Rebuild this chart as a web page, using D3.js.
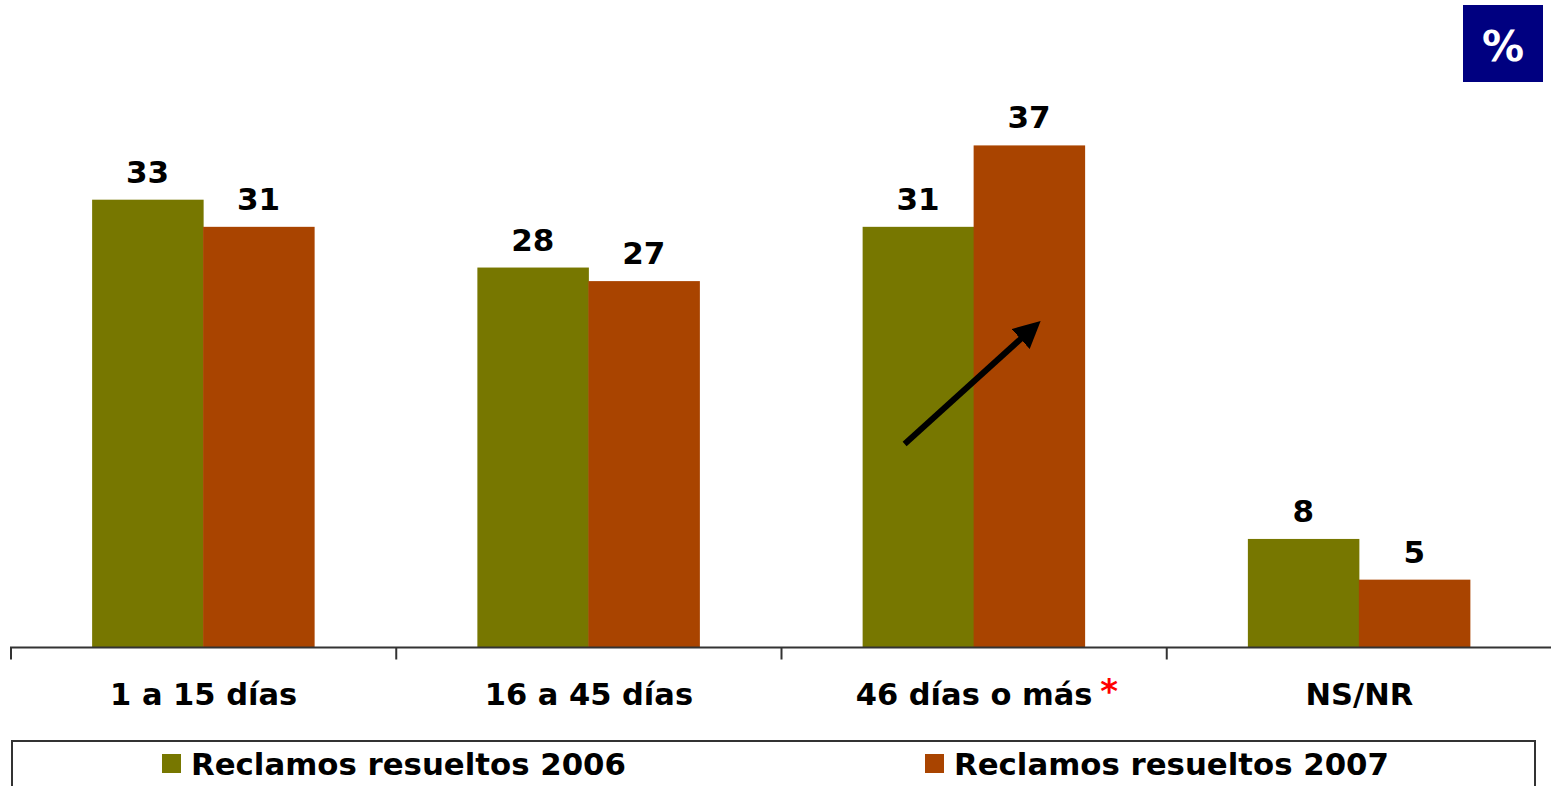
<!DOCTYPE html>
<html>
<head>
<meta charset="utf-8">
<script src="https://cdn.jsdelivr.net/npm/d3@7"></script>
<style>
  body { margin: 0; background: #fff; }
  text { font-family: "DejaVu Sans", Verdana, sans-serif; font-weight: bold; }
</style>
</head>
<body>
<div id="chart"></div>
<script>
// data
let categories = ["1 a 15 días", "16 a 45 días", "46 días o más", "NS/NR"];
let seriesNames = ["Reclamos resueltos 2006", "Reclamos resueltos 2007"];
let values2006 = [33, 28, 31, 8];
let values2007 = [31, 27, 37, 5];
let seriesColors = ["#777700", "#a94400"];

let svgWidth = 1551;
let svgHeight = 786;

let svg = d3.select("#chart")
    .append("svg")
    .attr("width", svgWidth)
    .attr("height", svgHeight);

// scales
let x0 = d3.scaleBand()
    .domain(categories)
    .range([11, 1552])
    .padding(0);

let barW = 111;
let x1 = d3.scaleBand()
    .domain(seriesNames)
    .range([x0.bandwidth() / 2 - barW - 0.5, x0.bandwidth() / 2 + barW - 0.5])
    .padding(0);

let y = d3.scaleLinear()
    .domain([0, 40])
    .range([647.5, 104.7]);

let rows = categories.map((c, i) => ({
    cat: c,
    vals: [
        { key: seriesNames[0], v: values2006[i], color: seriesColors[0] },
        { key: seriesNames[1], v: values2007[i], color: seriesColors[1] }
    ]
}));

let groups = svg.selectAll("g.grp")
    .data(rows)
    .enter()
    .append("g")
    .attr("class", "grp")
    .attr("transform", d => `translate(${x0(d.cat)},0)`);

groups.selectAll("rect")
    .data(d => d.vals)
    .enter()
    .append("rect")
    .attr("x", d => x1(d.key))
    .attr("y", d => y(d.v))
    .attr("width", x1.bandwidth() + 0.5)
    .attr("height", d => y(0) - y(d.v))
    .attr("fill", d => d.color);

groups.selectAll("text.val")
    .data(d => d.vals)
    .enter()
    .append("text")
    .attr("class", "val")
    .attr("x", d => x1(d.key) + x1.bandwidth() / 2)
    .attr("y", d => y(d.v) - 17)
    .attr("text-anchor", "middle")
    .attr("font-size", "31px")
    .attr("fill", "#000")
    .text(d => d.v);

// x axis
let xAxis = svg.append("g")
    .attr("transform", `translate(0,${y(0)})`)
    .call(d3.axisBottom(x0).tickSize(0).tickFormat(""));
xAxis.select(".domain").attr("stroke", "#333").attr("stroke-width", 2).attr("d", "M10,0H1551");

// tick marks at band boundaries
svg.selectAll("line.tick")
    .data(categories)
    .enter()
    .append("line")
    .attr("x1", d => x0(d))
    .attr("x2", d => x0(d))
    .attr("y1", y(0))
    .attr("y2", y(0) + 12)
    .attr("stroke", "#333")
    .attr("stroke-width", 2);

// category labels
svg.selectAll("text.cat")
    .data(categories)
    .enter()
    .append("text")
    .attr("class", "cat")
    .attr("x", d => x0(d) + x0.bandwidth() / 2)
    .attr("y", 705)
    .attr("text-anchor", "middle")
    .attr("font-size", "30.5px")
    .attr("fill", "#000")
    .text(d => d);

// red asterisk after third category
let catIdx = 2;
svg.append("text")
    .attr("x", x0(categories[catIdx]) + x0.bandwidth() / 2 + 135)
    .attr("y", 703)
    .attr("text-anchor", "middle")
    .attr("font-size", "34px")
    .attr("fill", "#ff0000")
    .text("*");

// arrow in third group
svg.append("defs").append("marker")
    .attr("id", "head")
    .attr("viewBox", "0 0 10 10")
    .attr("refX", 5)
    .attr("refY", 5)
    .attr("markerWidth", 4.5)
    .attr("markerHeight", 4.5)
    .attr("orient", "auto")
    .append("path")
    .attr("d", "M0,0L10,5L0,10z")
    .attr("fill", "#000");

let g3 = x0(categories[catIdx]);
svg.append("line")
    .attr("x1", g3 + x1(seriesNames[0]) + 42)
    .attr("y1", y(15))
    .attr("x2", g3 + x1(seriesNames[1]) + 57)
    .attr("y2", y(23.4))
    .attr("stroke", "#000")
    .attr("stroke-width", 6)
    .attr("marker-end", "url(#head)");

// legend
let legend = svg.append("g");
legend.append("rect")
    .attr("x", 12)
    .attr("y", 741)
    .attr("width", 1523)
    .attr("height", 60)
    .attr("fill", "none")
    .attr("stroke", "#333")
    .attr("stroke-width", 2);

let legendX = [162, 925];
seriesNames.forEach((name, i) => {
    legend.append("rect")
        .attr("x", legendX[i])
        .attr("y", 754)
        .attr("width", 19)
        .attr("height", 19)
        .attr("fill", seriesColors[i]);
    legend.append("text")
        .attr("x", legendX[i] + 29)
        .attr("y", 775)
        .attr("font-size", "30.8px")
        .attr("fill", "#000")
        .text(name);
});

// percent box
svg.append("rect")
    .attr("x", 1463)
    .attr("y", 5)
    .attr("width", 80)
    .attr("height", 77)
    .attr("fill", "#000080");
svg.append("text")
    .attr("x", 1503)
    .attr("y", 61)
    .attr("text-anchor", "middle")
    .attr("font-size", "42px")
    .attr("fill", "#fff")
    .text("%");
</script>
</body>
</html>
